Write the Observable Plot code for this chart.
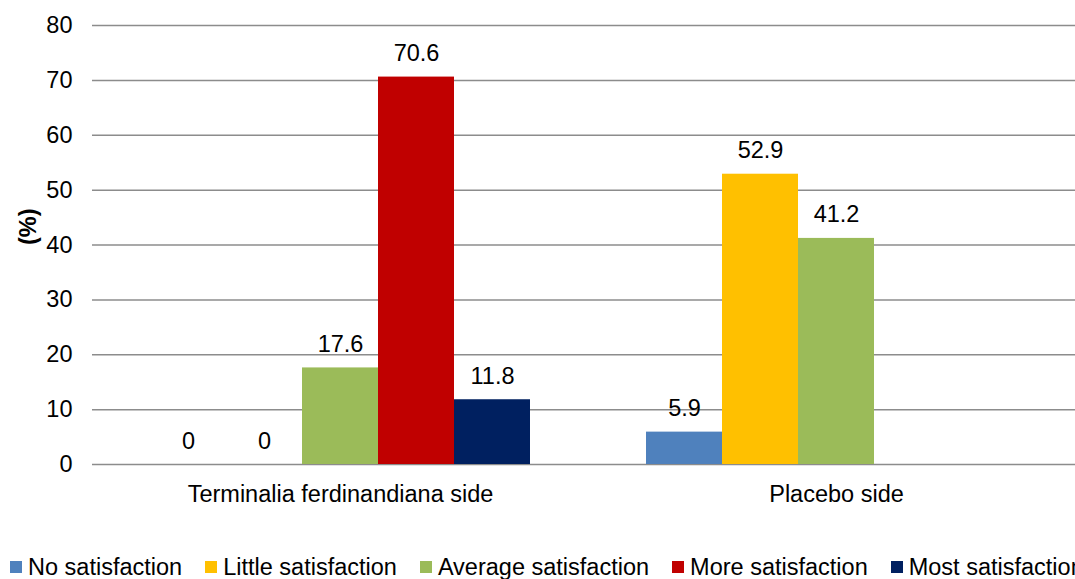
<!DOCTYPE html>
<html>
<head>
<meta charset="utf-8">
<script src="https://cdn.jsdelivr.net/npm/d3@7"></script>
<script src="https://cdn.jsdelivr.net/npm/@observablehq/plot@0.6"></script>
<style>
  html, body { margin: 0; padding: 0; background: #fff; overflow: hidden; width: 1075px; }
  #chart svg { display: block; overflow: hidden; }
  .legend { display: flex; white-space: nowrap; font-family: "Liberation Sans", Arial, sans-serif;
            font-size: 23.5px; line-height: 28px; color: #000; margin-top: 33px; padding-left: 10px; }
  .legend span.item { display: inline-flex; align-items: center; margin-right: 23px; flex: none; }
  .legend span.sw { display: inline-block; width: 12px; height: 12px; margin-right: 6px; }
</style>
</head>
<body>
<div id="chart"></div>
<div class="legend" id="legend"></div>
<script>
// Groups (x facets) and satisfaction levels (bars within each group)
const groups = ["Terminalia ferdinandiana side", "Placebo side"];
const levels = ["No satisfaction", "Little satisfaction", "Average satisfaction", "More satisfaction", "Most satisfaction"];
const levelColors = ["#4F81BD", "#FFC000", "#9BBB59", "#C00000", "#002060"];

// Percentages per level; null = no value reported
const terminaliaValues = [0, 0, 17.6, 70.6, 11.8];
const placeboValues = [5.9, 52.9, 41.2, null, null];

const yTicks = [0, 10, 20, 30, 40, 50, 60, 70, 80];

const rows = [];
[terminaliaValues, placeboValues].forEach((vals, gi) => {
  vals.forEach((v, li) => {
    if (v != null) rows.push({group: groups[gi], level: levels[li], value: v});
  });
});

const font = "'Liberation Sans', Arial, sans-serif";
const fs = 23.5;

const chart = Plot.plot({
  width: 1075,
  height: 520,
  marginLeft: 92,
  marginRight: -9,
  marginTop: 25,
  marginBottom: 56,
  style: {fontFamily: font, fontSize: fs + "px", color: "#000", background: "#fff"},
  fx: {domain: groups, padding: 0, label: null},
  x: {domain: levels, paddingInner: 0, paddingOuter: 0.763, axis: null},
  y: {domain: [0, 80], label: null},
  color: {domain: levels, range: levelColors},
  marks: [
    Plot.gridY(yTicks, {stroke: "#8c8c8c", strokeOpacity: 1, strokeWidth: 1.5}),
    Plot.axisY(yTicks, {tickSize: 0, tickPadding: 20, fontSize: fs, label: null, fill: "#000"}),
    Plot.axisFx({anchor: "bottom", tickSize: 0, tickPadding: 21, fontSize: fs, label: null, fill: "#000"}),
    Plot.barY(rows, {fx: "group", x: "level", y: "value", fill: "level"}),
    Plot.text(rows, {fx: "group", x: "level", y: "value", text: d => String(d.value),
      lineAnchor: "bottom", dy: -16, fontSize: fs, fill: "#000"}),
    Plot.text(["(%)"], {frameAnchor: "left", rotate: -90, dx: -64, facet: "super",
      fontSize: fs, fontWeight: "bold", fill: "#000"})
  ]
});
document.getElementById("chart").appendChild(chart);

const legend = document.getElementById("legend");
levels.forEach((name, i) => {
  const item = document.createElement("span");
  item.className = "item";
  const sw = document.createElement("span");
  sw.className = "sw";
  sw.style.background = levelColors[i];
  item.appendChild(sw);
  item.appendChild(document.createTextNode(name));
  legend.appendChild(item);
});
</script>
</body>
</html>
